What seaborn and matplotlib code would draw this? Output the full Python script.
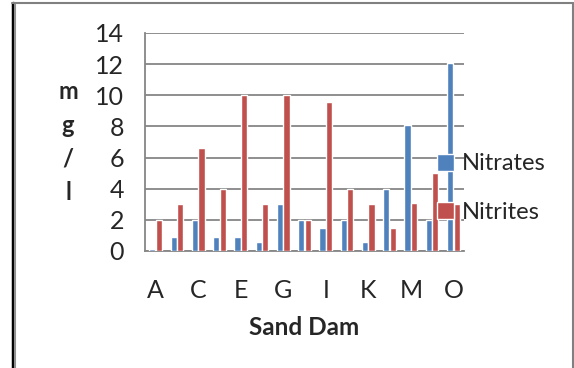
import matplotlib
matplotlib.use("Agg")
import matplotlib.pyplot as plt
import seaborn as sns
import pandas as pd
import numpy as np
from matplotlib.lines import Line2D

categories = list("ABCDEFGHIJKLMNO")
nitrates = [0.1, 0.9, 2.0, 0.9, 0.9, 0.6, 3.0, 2.0, 1.5, 2.0, 0.6, 4.0, 8.1, 2.0, 12.1]
nitrites = [2.0, 3.0, 6.6, 4.0, 10.0, 3.0, 10.0, 2.0, 9.6, 4.0, 3.0, 1.5, 3.1, 5.0, 3.0]
series_names = ["Nitrates", "Nitrites"]
tick_labels = ["A", "", "C", "", "E", "", "G", "", "I", "", "K", "", "M", "", "O"]
y_ticks = [0, 2, 4, 6, 8, 10, 12, 14]

df = pd.DataFrame({
    "Sand Dam": categories * 2,
    "value": nitrates + nitrites,
    "Series": [series_names[0]] * len(categories) + [series_names[1]] * len(categories),
})

sns.set_style("white")
plt.rcParams["font.family"] = ["Lato", "DejaVu Sans"]

W, H = 574, 368
fig = plt.figure(figsize=(W / 100, H / 100), dpi=100)
ax = fig.add_axes([145 / W, 1 - 251 / H, (464 - 145) / W, (251 - 33) / H])

grid_c = "#868686"
sns.barplot(data=df, x="Sand Dam", y="value", hue="Series",
            palette=["#4F81BD", "#C0504D"], width=0.62, gap=0.06,
            saturation=1, ax=ax, legend=True, zorder=3)

ax.set_xlim(-0.5, len(categories) - 0.5)
ax.set_ylim(0, 14)
ax.set_yticks(y_ticks)
ax.set_yticklabels([str(v) for v in y_ticks], fontsize=18)
ax.yaxis.grid(True, color=grid_c, linewidth=1.3, zorder=0)
ax.set_axisbelow(True)

ax.set_xticks(range(len(categories)))
ax.set_xticklabels(tick_labels, fontsize=18)
ax.set_xticks(np.arange(-0.5, len(categories), 1.0), minor=True)
ax.tick_params(axis="x", which="major", length=0, pad=20)
ax.tick_params(axis="x", which="minor", length=6, width=1.3, color=grid_c, direction="out")
ax.tick_params(axis="y", which="major", length=6, width=1.3, color=grid_c, direction="out", pad=9)

for s in ["top", "right"]:
    ax.spines[s].set_visible(False)
for s in ["left", "bottom"]:
    ax.spines[s].set_color(grid_c)
    ax.spines[s].set_linewidth(1.3)

ax.set_xlabel("Sand Dam", fontsize=17.5, fontweight="bold", labelpad=10)
ax.set_ylabel("m\ng\n/\nl", rotation=0, fontsize=17, fontweight="bold", linespacing=1.55,
              va="center", ha="center")
ax.yaxis.set_label_coords((68 - 145) / (464 - 145), (251 - 142) / (251 - 33))

leg = ax.get_legend()
handles = leg.legend_handles
leg.remove()
fig.legend(handles, series_names, loc="center left",
           bbox_to_anchor=(437 / W, 1 - 188 / H), bbox_transform=fig.transFigure,
           frameon=False, fontsize=17, handlelength=0.7, handleheight=0.75,
           handletextpad=0.35, labelspacing=1.15, borderpad=0, borderaxespad=0)

# outer frame
fig.add_artist(Line2D([12.5 / W, 12.5 / W], [0, 1 - 3 / H], color="black", linewidth=2.5, transform=fig.transFigure))
fig.add_artist(Line2D([15 / W, 15 / W], [0, 1 - 3 / H], color="#909090", linewidth=1.5, transform=fig.transFigure))
fig.add_artist(Line2D([12 / W, 573 / W], [1 - 3 / H, 1 - 3 / H], color="#808080", linewidth=1.5, transform=fig.transFigure))
fig.add_artist(Line2D([572.5 / W, 572.5 / W], [0, 1 - 3 / H], color="#808080", linewidth=1.5, transform=fig.transFigure))

fig.savefig("out.png", dpi=100)
